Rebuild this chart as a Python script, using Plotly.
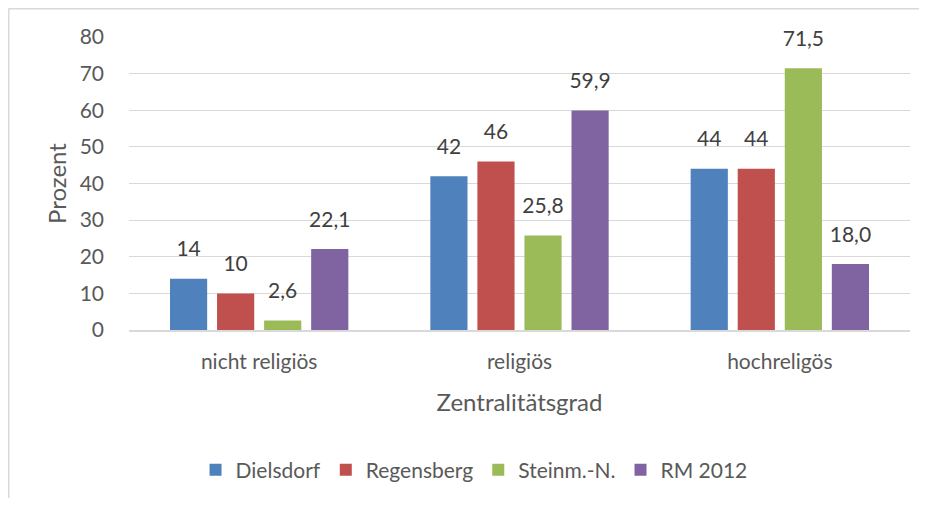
import plotly.graph_objects as go

categories = ["nicht religiös", "religiös", "hochreligös"]
series_names = ["Dielsdorf", "Regensberg", "Steinm.-N.", "RM 2012"]
dielsdorf = [14, 42, 44]
regensberg = [10, 46, 44]
steinm = [2.6, 25.8, 71.5]
rm2012 = [22.1, 59.9, 18.0]
labels_dielsdorf = ["14", "42", "44"]
labels_regensberg = ["10", "46", "44"]
labels_steinm = ["2,6", "25,8", "71,5"]
labels_rm2012 = ["22,1", "59,9", "18,0"]
y_ticks = [0, 10, 20, 30, 40, 50, 60, 70, 80]
colors = ["#4F81BD", "#C0504D", "#9BBB59", "#8064A2"]

values = [dielsdorf, regensberg, steinm, rm2012]
labels = [labels_dielsdorf, labels_regensberg, labels_steinm, labels_rm2012]

FONT = "Lato"
fig = go.Figure()
for i, (name, vals, col) in enumerate(zip(series_names, values, colors)):
    fig.add_trace(go.Bar(
        x=categories, y=vals, name=name, marker_color=col,
        marker_line_width=0, offsetgroup=str(i),
    ))
for i, (vals, labs) in enumerate(zip(values, labels)):
    fig.add_trace(go.Scatter(
        x=categories, y=vals, mode="markers+text", text=labs,
        textposition="top center", offsetgroup=str(i), showlegend=False,
        marker=dict(size=26, opacity=0), hoverinfo="skip", cliponaxis=False,
        textfont=dict(family=FONT, size=21, color="#404040"),
    ))

fig.update_layout(
    width=911, height=490,
    margin=dict(l=121, r=9, t=29, b=167),
    paper_bgcolor="white", plot_bgcolor="white",
    barmode="group", bargap=0.277, bargroupgap=0.21,
    scattermode="group", scattergap=0.277,
    font=dict(family=FONT, color="#595959"),
    showlegend=True,
    legend=dict(orientation="h", x=0.4418, xanchor="center", y=-0.473, yanchor="middle",
                font=dict(family=FONT, size=21, color="#595959"),
                itemwidth=30, traceorder="normal"),
    xaxis=dict(
        title=dict(text="Zentralitätsgrad", font=dict(family=FONT, size=24, color="#595959"), standoff=22),
        tickfont=dict(family=FONT, size=21, color="#595959"),
        showline=True, linecolor="#d9d9d9", linewidth=2, ticks="",
        showgrid=False, ticklabelstandoff=12,
    ),
    yaxis=dict(
        title=dict(text="Prozent", font=dict(family=FONT, size=24, color="#595959"), standoff=6),
        range=[0, 80], tickvals=y_ticks, ticktext=[str(v) for v in y_ticks],
        tickfont=dict(family=FONT, size=21, color="#595959"),
        showgrid=True, gridcolor="#d9d9d9", gridwidth=1,
        zeroline=False, showline=False, ticks="", ticklabelstandoff=24,
    ),
    shapes=[
        dict(type="line", xref="paper", yref="paper", x0=-0.1543, x1=1.05, y0=1.0969, y1=1.0969,
             line=dict(color="#d9d9d9", width=2)),
        dict(type="line", xref="paper", yref="paper", x0=-0.1543, x1=-0.1543, y0=1.0969, y1=-0.6,
             line=dict(color="#d9d9d9", width=2)),
    ],
)

fig.write_html("out.html")
